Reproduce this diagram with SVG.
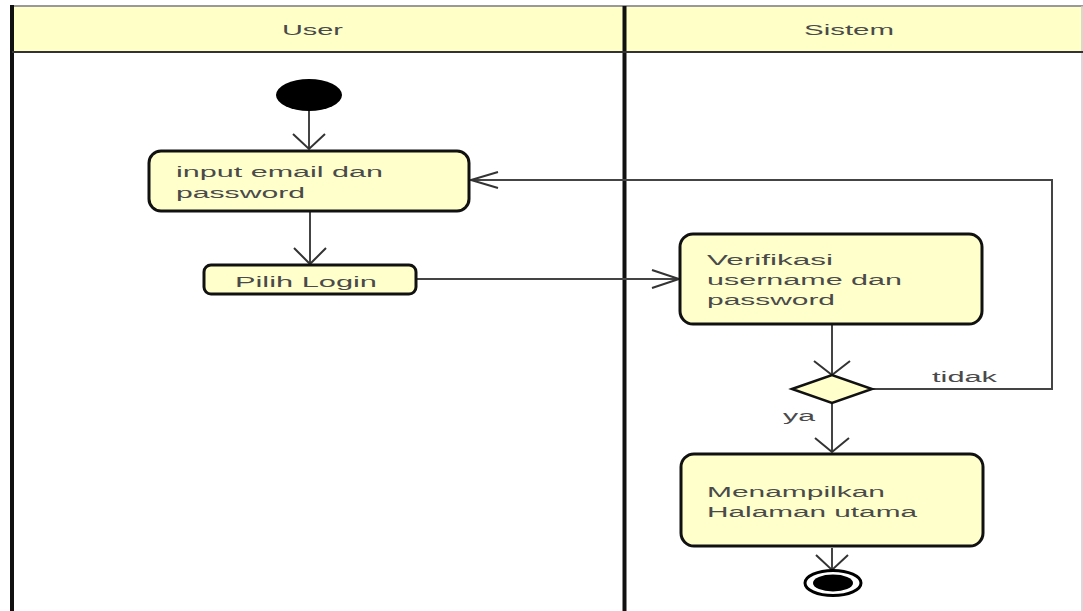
<svg xmlns="http://www.w3.org/2000/svg" width="1083" height="611" viewBox="0 0 1083 611">
<style>
  .hdr { fill: #ffffc8; stroke: #333; stroke-width: 2; }
  .lane { fill: #ffffff; }
  .act { fill: #ffffcc; stroke: #111; stroke-width: 3; }
  .t { font-family: "Liberation Sans", Arial, sans-serif; font-size: 15.5px; fill: #4a4a4a; }
  .conn { fill: none; stroke: #444; stroke-width: 2; }
  .head { fill: none; stroke: #333; stroke-width: 2; }
</style>
<rect x="0" y="0" width="1083" height="611" fill="#ffffff"/>
<g id="frame">
  <rect class="lane" x="12" y="6" width="1070" height="610"/>
  <rect class="hdr" x="12" y="6" width="1072" height="46"/>
  <line x1="12" y1="6" x2="1083" y2="6" stroke="#999" stroke-width="2"/>
  <line x1="1082" y1="6" x2="1082" y2="611" stroke="#ccc" stroke-width="1.5"/>
  <line x1="12" y1="5" x2="12" y2="611" stroke="#111" stroke-width="4"/>
  <line x1="624.5" y1="6" x2="624.5" y2="611" stroke="#111" stroke-width="4"/>
  <line x1="12" y1="52" x2="1083" y2="52" stroke="#333" stroke-width="2"/>
  <text class="t" x="282" y="35" textLength="61" lengthAdjust="spacingAndGlyphs">User</text>
  <text class="t" x="804" y="35" textLength="90" lengthAdjust="spacingAndGlyphs">Sistem</text>
</g>
<g id="connectors">
  <line class="conn" x1="309" y1="108" x2="309" y2="149"/>
  <path class="head" d="M293,134 L309,149 L325,134"/>
  <line class="conn" x1="310" y1="212" x2="310" y2="264"/>
  <path class="head" d="M294,248 L310,264 L326,248"/>
  <line class="conn" x1="417" y1="279" x2="679" y2="279"/>
  <path class="head" d="M652,270 L679,279 L652,288"/>
  <line class="conn" x1="832" y1="325" x2="832" y2="375"/>
  <path class="head" d="M814,361 L832,375 L850,361"/>
  <polyline class="conn" points="872,389 1052,389 1052,180 471,180"/>
  <path class="head" d="M498,172 L471,180 L498,188"/>
  <text class="t" x="932" y="382" textLength="65" lengthAdjust="spacingAndGlyphs">tidak</text>
  <line class="conn" x1="832" y1="403" x2="832" y2="452"/>
  <path class="head" d="M815,438 L832,452 L849,438"/>
  <text class="t" x="783" y="421" textLength="32" lengthAdjust="spacingAndGlyphs">ya</text>
  <line class="conn" x1="832" y1="548" x2="832" y2="570"/>
  <path class="head" d="M816,555 L832,570 L848,555"/>
</g>
<g id="start">
  <ellipse cx="309" cy="95" rx="33" ry="16" fill="#000"/>
</g>
<g id="input">
  <rect class="act" x="149" y="151" width="320" height="60" rx="12"/>
  <text class="t" x="176" y="177" textLength="207" lengthAdjust="spacingAndGlyphs">input email dan</text>
  <text class="t" x="176" y="198" textLength="129" lengthAdjust="spacingAndGlyphs">password</text>
</g>
<g id="pilih">
  <rect class="act" x="204" y="265" width="212" height="29" rx="7"/>
  <text class="t" x="235" y="287" textLength="142" lengthAdjust="spacingAndGlyphs">Pilih Login</text>
</g>
<g id="verifikasi">
  <rect class="act" x="680" y="234" width="302" height="90" rx="13"/>
  <text class="t" x="707" y="265" textLength="126" lengthAdjust="spacingAndGlyphs">Verifikasi</text>
  <text class="t" x="707" y="285" textLength="195" lengthAdjust="spacingAndGlyphs">username dan</text>
  <text class="t" x="707" y="305" textLength="128" lengthAdjust="spacingAndGlyphs">password</text>
</g>
<g id="decision">
  <polygon points="792,389 832,375 872,389 832,403" fill="#ffffcc" stroke="#111" stroke-width="2.5"/>
</g>
<g id="menampilkan">
  <rect class="act" x="681" y="454" width="302" height="92" rx="13"/>
  <text class="t" x="707" y="497" textLength="178" lengthAdjust="spacingAndGlyphs">Menampilkan</text>
  <text class="t" x="707" y="517" textLength="210" lengthAdjust="spacingAndGlyphs">Halaman utama</text>
</g>
<g id="end">
  <ellipse cx="833" cy="583" rx="28" ry="12.5" fill="#fff" stroke="#000" stroke-width="3"/>
  <ellipse cx="833" cy="583" rx="20" ry="8.5" fill="#000"/>
</g>
</svg>
